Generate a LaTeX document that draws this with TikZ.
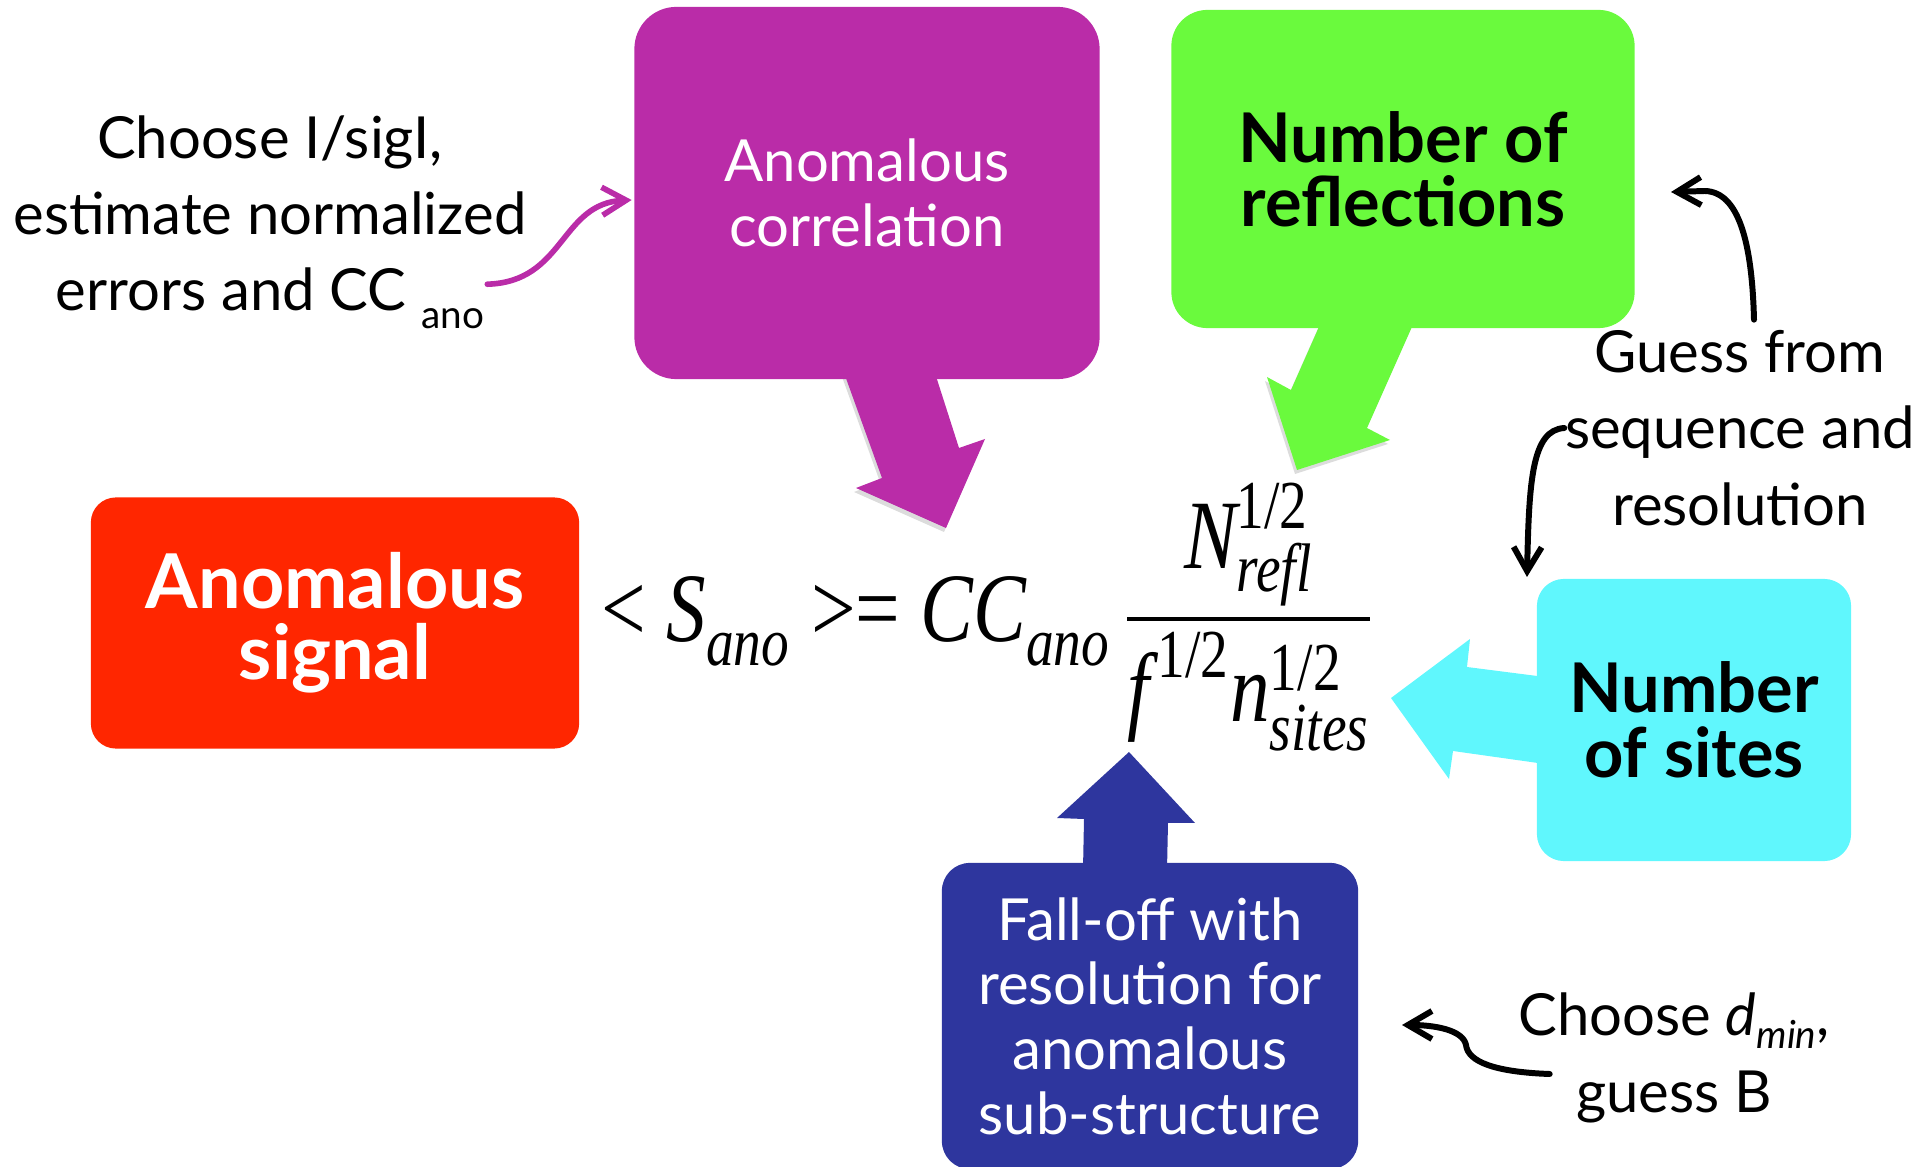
\documentclass[tikz,border=0pt]{standalone}
\usepackage{amsmath}
\usepackage[no-math]{fontspec}
\setmainfont{Lato}
\newfontfamily\eqfont{Liberation Serif}
\usetikzlibrary{arrows.meta,shadows}
\definecolor{sigred}{RGB}{255,38,0}
\definecolor{corrpurple}{RGB}{186,44,168}
\definecolor{reflgreen}{RGB}{106,250,61}
\definecolor{sitescyan}{RGB}{96,247,253}
\definecolor{fallblue}{RGB}{46,54,158}
\newcommand\ital[1]{\text{\itshape #1}}
\newcommand\dsub[1]{\lower2.5pt\hbox{$\scriptstyle\ital{#1}$}}
\newcommand\lowsub[2]{\raisebox{-#1em}{\fontsize{11}{11}\selectfont #2}}
\tikzset{
  box/.style={inner sep=0pt,align=center},
  boldtext/.style={font=\fontsize{19.5}{#1}\selectfont\bfseries},
  plaintext/.style={font=\fontsize{16.5}{18.4}\selectfont},
  note/.style={inner sep=0pt,align=center,font=\fontsize{16.5}{21.7}\selectfont},
  notearrow/.style={line width=1.7pt,line cap=round,-{Straight Barb[length=2.4mm,width=2.8mm]}},
  pshadow/.style={drop shadow={shadow xshift=-0.02cm,shadow yshift=-0.04cm,fill=black!30,opacity=0.45}}
}
\begin{document}
\begin{tikzpicture}[x=0.01cm,y=-0.01cm]
	\useasboundingbox (0,0) rectangle (1914,1167);
	\fill[corrpurple,pshadow] (843,370)--(882,478)--(856,488)--(946,528)--(985,439)--(959,448)--(934,370)--cycle;
	\fill[reflgreen,pshadow] (1322,320)--(1291,390)--(1267,377)--(1297,470)--(1390,440)--(1367,428)--(1415,320)--cycle;
	\fill[sitescyan] (1545,677)--(1467,667)--(1470,639)--(1391,698)--(1449,779)--(1453,751)--(1545,764)--cycle;
	\fill[fallblue] (1083,870)--(1084,819)--(1057,818)--(1129,752)--(1195,823)--(1168,823)--(1167,870)--cycle;
	\node[box,font=\fontsize{21.5}{20.2}\selectfont\bfseries,fill=sigred,text=white,rounded corners=0.25cm,minimum width=4.88cm,minimum height=2.51cm] (signal) at (335,623) {Anomalous\\signal};
	\node[box,plaintext,fill=corrpurple,text=white,rounded corners=0.42cm,minimum width=4.65cm,minimum height=3.72cm] (corr) at (867,193) {Anomalous\\correlation};
	\node[box,boldtext=18.3,fill=reflgreen,rounded corners=0.36cm,minimum width=4.63cm,minimum height=3.18cm] (refl) at (1403,169) {Number of\\reflections};
	\node[box,boldtext=18.5,fill=sitescyan,rounded corners=0.27cm,minimum width=3.14cm,minimum height=2.82cm] (sites) at (1694,720) {Number\\of sites};
	\node[box,plaintext,fill=fallblue,text=white,rounded corners=0.28cm,minimum width=4.16cm,minimum height=3.06cm] (falloff) at (1150,1016) {Fall-off with\\resolution for\\anomalous\\sub-structure};
	\node[font=\eqfont\fontsize{22.5}{22.5}\selectfont] (formula) at (988,617) {\scalebox{1}[1.24]{$\mathrel{\text{<}}\ital{S}_{\dsub{ano}}\mathrel{\text{>=}}\ital{CC}_{\dsub{ano}}\,\dfrac{\ital{N}^{\text{1/2}}_{\ital{refl}}}{\ital{f}^{\,\text{1/2}}\ital{n}^{\text{1/2}}_{\ital{sites}}}$}};
	\node[note] (choose) at (270,222) {Choose I/sigI,\\estimate normalized\\errors and CC \lowsub{0.3}{ano}};
	\node[note] (guess) at (1740,428) {Guess from\\sequence and\\resolution};
	\node[note] (dmin) at (1674,1058) {Choose \textit{d}\lowsub{0.22}{\itshape min},\\guess B};
	\coordinate (reflTip) at (1671,192);
	\coordinate (sitesTip) at (1527,577);
	\coordinate (fallTip) at (1402,1025);
	\draw[notearrow] ([xshift=0.14cm,yshift=0.1cm]guess.north) .. controls (1752,240) and (1738,192) .. (1705,191) -- (reflTip);
	\draw[notearrow] (guess.west) .. controls (1532,430) and (1529,480) .. (sitesTip);
	\draw[notearrow] ([xshift=0.32cm,yshift=-0.16cm]dmin.west) .. controls (1495,1072) and (1468,1062) .. (1466,1045) .. controls (1463,1030) and (1435,1025) .. (fallTip);
	\draw[notearrow,corrpurple,line width=1.6pt] ([xshift=-0.4cm,yshift=0.45cm]choose.south east) .. controls (565,282) and (560,203) .. ([xshift=-0.02cm,yshift=-0.07cm]corr.west);
\end{tikzpicture}
\end{document}
